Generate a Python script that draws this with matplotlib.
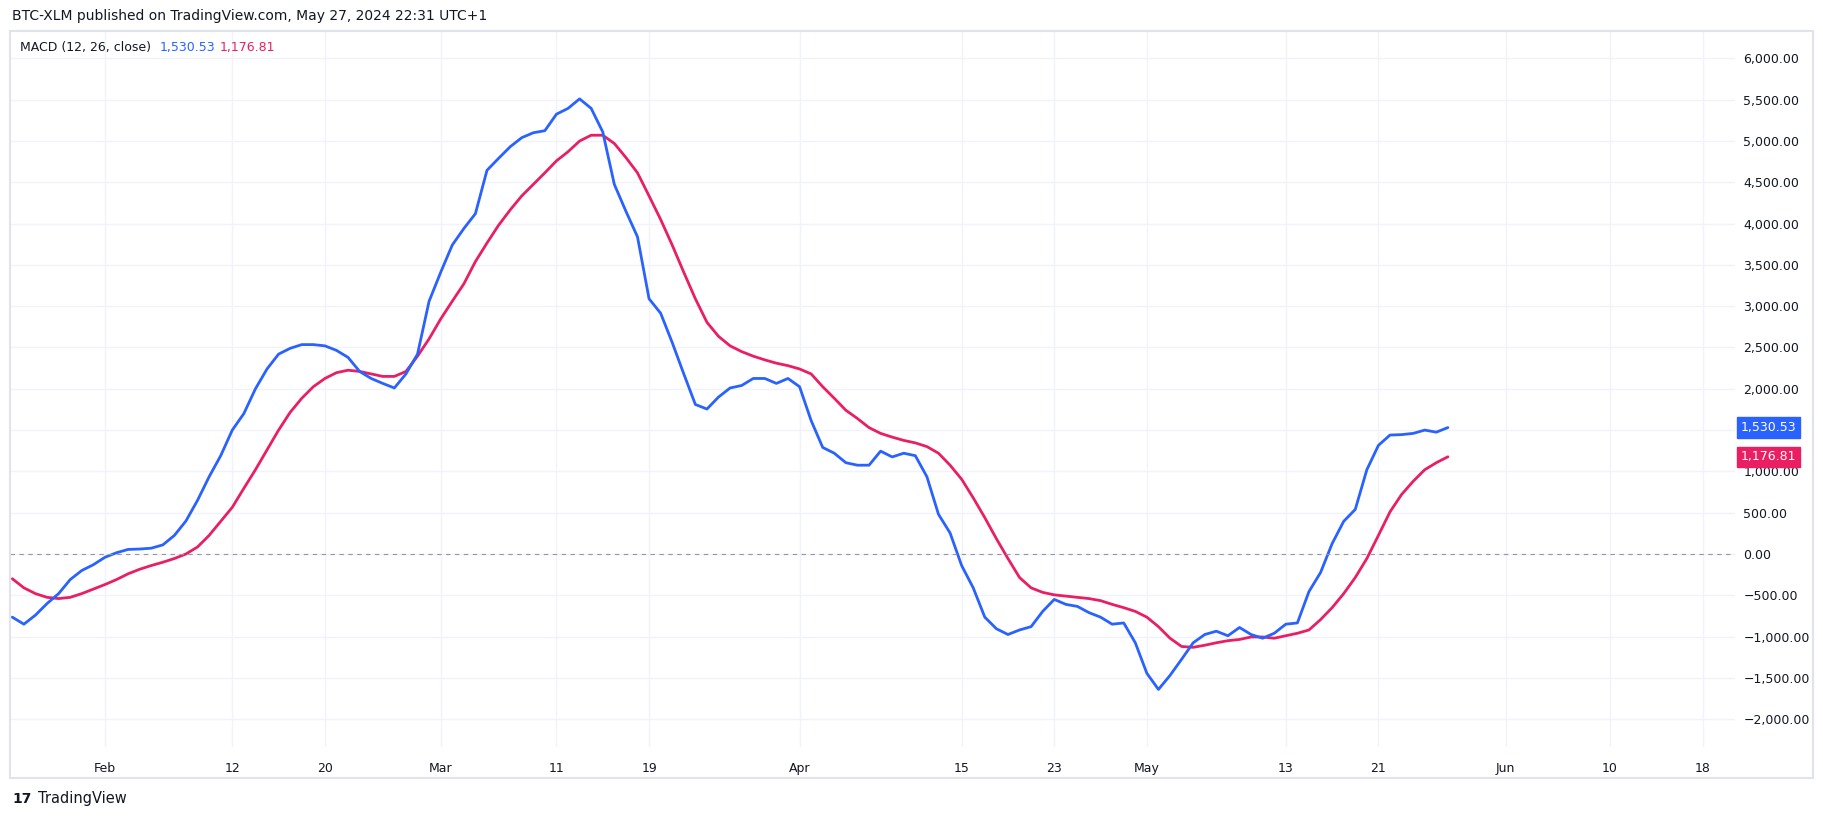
import matplotlib
matplotlib.use("Agg")
import matplotlib.pyplot as plt
from matplotlib.patches import Rectangle

macd = [-765,-850,-740,-600,-480,-310,-200,-130,-40,15,
        55,60,70,110,225,400,650,935,1190,1500,
        1700,2000,2240,2420,2490,2535,2535,2520,2465,2380,
        2210,2125,2065,2010,2180,2420,3060,3410,3740,3940,
        4120,4645,4790,4930,5040,5100,5125,5325,5395,
        5510,5395,5110,4475,4150,3840,3090,2915,2560,2180,
        1810,1755,1900,2010,2040,2125,2125,2065,2125,2025,
        1615,1290,1220,1105,1075,1075,1245,1175,1220,1190,
        935,480,255,-140,-410,-765,-905,-975,-920,-880,
        -695,-550,-610,-635,-710,-765,-850,-835,-1075,-1445,
        -1640,-1470,-1275,-1075,-975,-935,-990,-890,-975,-1020,
        -960,-850,-835,-455,-225,125,395,540,1020,1315,
        1440,1445,1460,1500,1475,1530.53]
signal = [-300,-410,-480,-525,-540,-525,-480,-425,-370,-310,
          -240,-185,-140,-100,-55,0,85,225,395,565,
          795,1020,1260,1500,1715,1885,2025,2125,2195,2225,
          2210,2180,2150,2150,2210,2395,2605,2845,3060,3270,
          3540,3765,3980,4165,4335,4475,4615,4760,4870,5000,
          5070,5070,4970,4800,4615,4335,4050,3740,3410,3090,
          2805,2635,2520,2450,2395,2350,2310,2280,2240,2180,
          2025,1885,1740,1640,1530,1460,1415,1375,1345,1300,
          1220,1075,905,680,440,185,-55,-285,-410,-465,
          -495,-510,-525,-540,-565,-610,-650,-695,-765,-880,
          -1020,-1120,-1130,-1105,-1075,-1050,-1035,-1005,-1005,-1020,
          -990,-960,-920,-795,-650,-480,-285,-55,225,510,
          720,880,1020,1105,1176.81]
tick_days = [8, 19, 27, 37, 47, 55, 68, 82, 90, 98, 110, 118, 129, 138, 146]
tick_labels = ["Feb", "12", "20", "Mar", "11", "19", "Apr", "15", "23", "May", "13", "21", "Jun", "10", "18"]
y_ticks = list(range(-2000, 6001, 500))

BLUE = "#2962FF"
RED = "#E91E63"
W, H = 1824, 818
fig = plt.figure(figsize=(W/100, H/100), dpi=100)
ax = fig.add_axes([10/W, 1-747/H, (1735-10)/W, (747-31)/H])
days = list(range(len(macd)))
ax.plot(days, signal, color=RED, lw=2.0, solid_capstyle="round")
ax.plot(days, macd, color=BLUE, lw=2.0, solid_capstyle="round")
ax.axhline(0, color="#9598a1", lw=0.8, ls=(0, (4, 4)))
ax.set_xlim(-0.2, 148.8)
ax.set_ylim(-2337, 6332)
ax.set_xticks(tick_days)
ax.set_xticklabels(tick_labels)
ax.set_yticks(y_ticks)
ax.set_yticklabels([f"{v:,.2f}".replace("-", "\u2212") for v in y_ticks])
ax.yaxis.tick_right()
ax.grid(True, color="#f0f3fa", lw=1)
ax.tick_params(length=0, labelsize=9, colors="#131722")
ax.tick_params(axis="y", pad=6)
ax.tick_params(axis="x", pad=11)
for s in ax.spines.values():
    s.set_visible(False)
fig.add_artist(Rectangle((10/W, 1-778/H), (1813-10)/W, (778-31)/H, transform=fig.transFigure,
                         fill=False, ec="#e0e3eb", lw=1.5))
for val, col in [(macd[-1], BLUE), (signal[-1], RED)]:
    ax.annotate(f"{val:,.2f}", xy=(1.0, val), xycoords=("axes fraction", "data"),
                xytext=(4, 0), textcoords="offset points", va="center", ha="left",
                fontsize=9, color="white",
                bbox=dict(boxstyle="square,pad=0.3", fc=col, ec=col))
fig.text(12/W, 1-16/H, "BTC-XLM published on TradingView.com, May 27, 2024 22:31 UTC+1",
         fontsize=10, color="#131722", va="center")
fig.text(20/W, 1-47/H, "MACD (12, 26, close)", fontsize=9, color="#131722", va="center")
fig.text(160/W, 1-47/H, "1,530.53", fontsize=9, color=BLUE, va="center")
fig.text(220/W, 1-47/H, "1,176.81", fontsize=9, color=RED, va="center")
fig.text(12/W, 1-799/H, "17", fontsize=10, color="#131722", va="center", fontweight="bold")
fig.text(38/W, 1-799/H, "TradingView", fontsize=10.5, color="#131722", va="center")
fig.savefig("out.png", dpi=100, facecolor="white")
